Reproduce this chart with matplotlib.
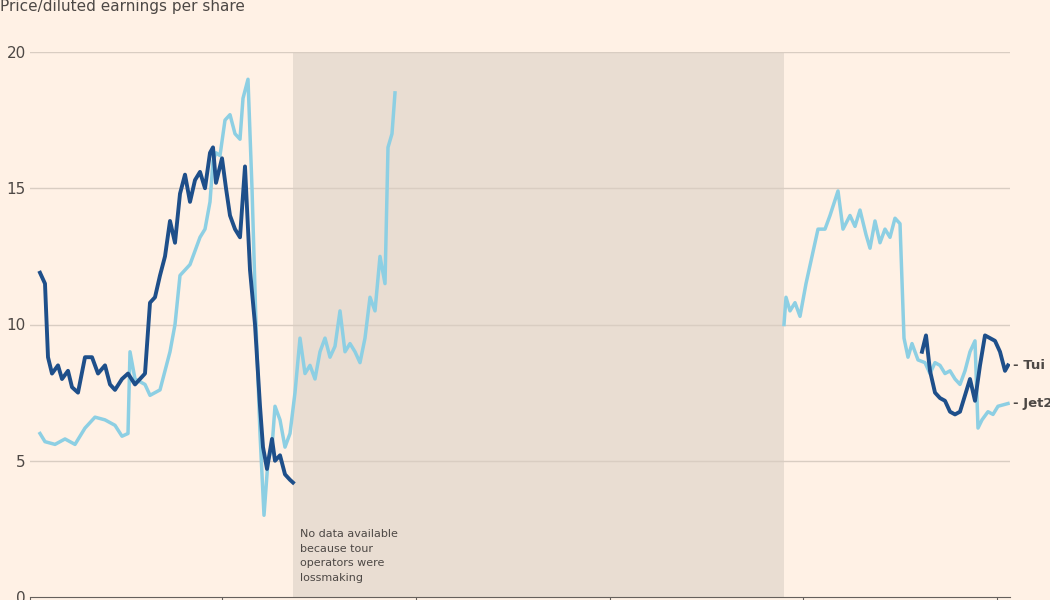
import matplotlib.pyplot as plt

# time index (trading-period units), values = P/E ratio
jet2_x1 = [40, 45, 55, 65, 75, 85, 95, 105, 115, 122, 128, 130, 135, 145, 150, 160, 170, 175, 180, 190,
           200, 205, 210, 213, 216, 220, 225, 230, 235, 240, 243, 248, 252, 256, 260, 264, 268, 272, 275, 280,
           285, 290, 295, 300, 305, 310, 315, 320, 325, 330, 335, 340, 345, 350, 355, 360, 365, 370, 375, 380,
           385, 388, 392, 395]
jet2_y1 = [6.0, 5.7, 5.6, 5.8, 5.6, 6.2, 6.6, 6.5, 6.3, 5.9, 6.0, 9.0, 8.0, 7.8, 7.4, 7.6, 9.0, 10.0, 11.8, 12.2,
           13.2, 13.5, 14.5, 16.0, 16.3, 16.2, 17.5, 17.7, 17.0, 16.8, 18.3, 19.0, 15.0, 10.0, 6.0, 3.0, 5.0, 5.5, 7.0, 6.5,
           5.5, 6.0, 7.5, 9.5, 8.2, 8.5, 8.0, 9.0, 9.5, 8.8, 9.2, 10.5, 9.0, 9.3, 9.0, 8.6, 9.5, 11.0, 10.5, 12.5,
           11.5, 16.5, 17.0, 18.5]
jet2_x2 = [784, 786, 790, 795, 800, 806, 812, 818, 825, 830, 838, 843, 850, 855, 860, 866, 870, 875, 880, 885,
           890, 895, 900, 904, 908, 912, 918, 925, 930, 935, 940, 945, 950, 955, 960, 965, 970, 975, 978, 982,
           988, 993, 998, 1008]
jet2_y2 = [10.0, 11.0, 10.5, 10.8, 10.3, 11.5, 12.5, 13.5, 13.5, 14.0, 14.9, 13.5, 14.0, 13.6, 14.2, 13.3, 12.8, 13.8, 13.0, 13.5,
           13.2, 13.9, 13.7, 9.5, 8.8, 9.3, 8.7, 8.6, 8.2, 8.6, 8.5, 8.2, 8.3, 8.0, 7.8, 8.3, 9.0, 9.4, 6.2, 6.5,
           6.8, 6.7, 7.0, 7.1]

tui_x1 = [40, 45, 48, 52, 58, 62, 68, 72, 78, 85, 92, 98, 105, 110, 115, 122, 128, 135, 145, 150,
          155, 160, 165, 170, 175, 180, 185, 190, 195, 200, 205, 210, 213, 216, 222, 226, 230, 235, 240, 245,
          250, 255, 260, 263, 267, 272, 275, 280, 285, 290, 293]
tui_y1 = [11.9, 11.5, 8.8, 8.2, 8.5, 8.0, 8.3, 7.7, 7.5, 8.8, 8.8, 8.2, 8.5, 7.8, 7.6, 8.0, 8.2, 7.8, 8.2, 10.8,
          11.0, 11.8, 12.5, 13.8, 13.0, 14.8, 15.5, 14.5, 15.3, 15.6, 15.0, 16.3, 16.5, 15.2, 16.1, 15.0, 14.0, 13.5, 13.2, 15.8,
          12.0, 10.0, 7.0, 5.5, 4.7, 5.8, 5.0, 5.2, 4.5, 4.3, 4.2]
tui_x2 = [922, 926, 930, 935, 940, 945, 950, 955, 960, 965, 970, 975, 980, 985, 990, 995, 1000, 1005, 1008]
tui_y2 = [9.0, 9.6, 8.3, 7.5, 7.3, 7.2, 6.8, 6.7, 6.8, 7.4, 8.0, 7.2, 8.5, 9.6, 9.5, 9.4, 9.0, 8.3, 8.5]

no_data_span = (293, 784)
x_ticks = [30, 222, 416, 610, 803, 997]
y_ticks = [0, 5, 10, 15, 20]

BG = "#FFF1E5"
JET2 = "#8DCFE3"
TUI = "#1E4F8A"
TXT = "#4d4845"

fig = plt.figure(figsize=(10.5, 6), dpi=100, facecolor=BG)
ax = fig.add_axes([30 / 1050, 3 / 600, 980 / 1050, 545 / 600], facecolor=BG)
ax.set_xlim(30, 1010)
ax.set_ylim(0, 20)

ax.axvspan(*no_data_span, color="#E9DDD2", lw=0, zorder=0)
for y in y_ticks[1:]:
    ax.axhline(y, color="#d9cdc2", lw=1, zorder=1)

ax.plot(jet2_x1, jet2_y1, color=JET2, lw=2.5, zorder=3)
ax.plot(jet2_x2, jet2_y2, color=JET2, lw=2.5, zorder=3)
ax.plot(tui_x1, tui_y1, color=TUI, lw=2.8, zorder=4)
ax.plot(tui_x2, tui_y2, color=TUI, lw=2.8, zorder=4)

for s in ["top", "right", "left"]:
    ax.spines[s].set_visible(False)
ax.spines["bottom"].set_color("#66605c")
ax.set_xticks(x_ticks)
ax.set_xticklabels([])
ax.tick_params(axis="x", length=6, color="#66605c")
ax.set_yticks(y_ticks)
ax.set_yticklabels([str(v) for v in y_ticks])
ax.tick_params(axis="y", length=0, pad=3, labelsize=11, labelcolor=TXT)

ax.text(1013, tui_y2[-1], "- Tui", color=TXT, fontsize=9.5, fontweight="bold", va="center", clip_on=False)
ax.text(1013, jet2_y2[-1], "- Jet2", color=TXT, fontsize=9.5, fontweight="bold", va="center", clip_on=False)
ax.text(300, 2.5, "No data available\nbecause tour\noperators were\nlossmaking", color=TXT, fontsize=8,
        va="top", linespacing=1.6)
fig.text(0.0, 0.99, "Price/diluted earnings per share", color=TXT, fontsize=11, va="center")

fig.savefig("out.png", dpi=100, facecolor=BG)
